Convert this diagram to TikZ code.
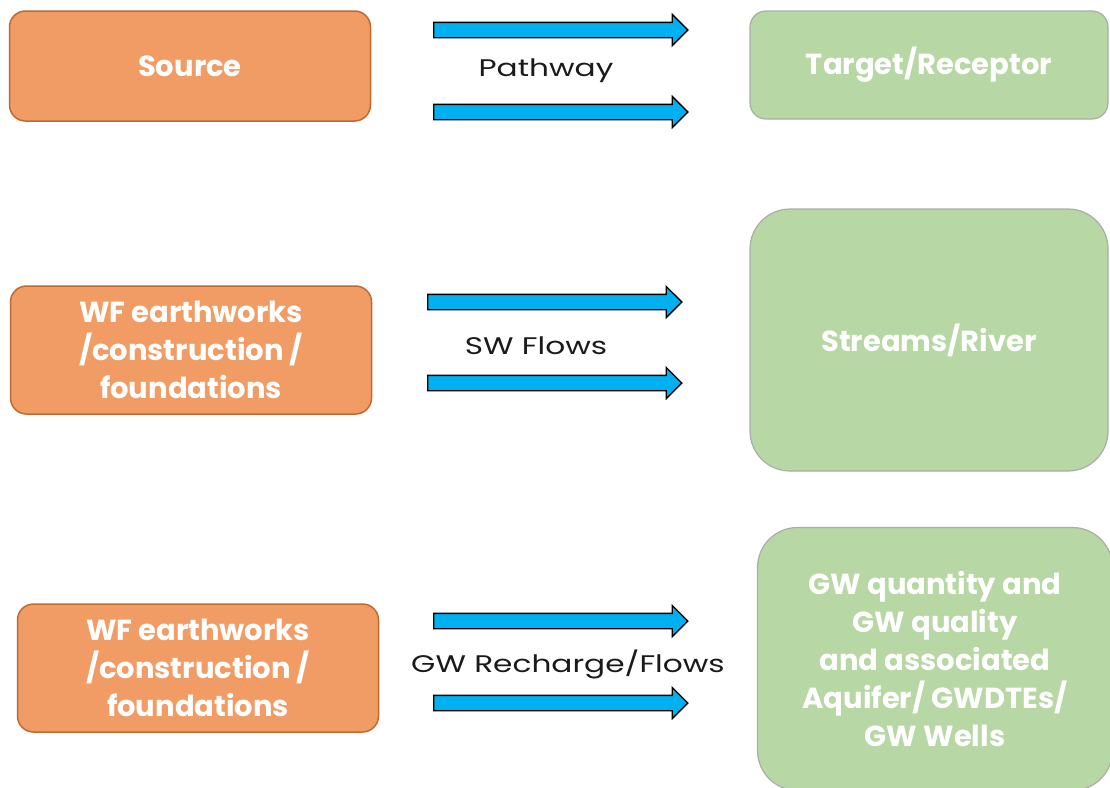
\documentclass[tikz,border=0pt]{standalone}
\usepackage{fontspec}
\setmainfont{Poppins}
\newfontfamily\flowfont{Poppins}[FakeStretch=1.3]
\usetikzlibrary{shapes.arrows,positioning}
\definecolor{srcfill}{HTML}{F19C65}
\definecolor{srcborder}{HTML}{BF6A30}
\definecolor{tgtfill}{HTML}{B7D7A4}
\definecolor{tgtborder}{HTML}{A8AFA4}
\definecolor{flowfill}{HTML}{00B0F0}
\definecolor{labeltext}{HTML}{1A1A1A}
\tikzset{
  base/.style={
    font=\fontsize{29}{38}\selectfont\bfseries,
    text=white,
    align=center,
    inner sep=0pt,
  },
  source/.style={
    base,
    draw=srcborder,
    fill=srcfill,
    rounded corners=16pt,
    line width=1.5pt,
    minimum width=361pt,
    minimum height=128pt,
  },
  target/.style={
    base,
    draw=tgtborder,
    fill=tgtfill,
    rounded corners=#1,
    line width=1.2pt,
  },
  target/.default=16pt,
  flowarrow/.style={
    single arrow,
    draw=black,
    fill=flowfill,
    line width=1.3pt,
    minimum height=254pt,
    minimum width=0pt,
    inner xsep=0pt,
    inner ysep=7pt,
    single arrow head extend=8pt,
    single arrow tip angle=90,
  },
  plabel/.style={
    font=\flowfont\fontsize{24}{28}\selectfont,
    text=labeltext,
  },
}

\begin{document}
\begin{tikzpicture}[x=1pt, y=-1pt]
\useasboundingbox (0,0) rectangle (1110,787);

% === ROW 1: Source -> Pathway -> Target ===

\node[source, minimum height=110pt]
  (src) at (190,66) {Source};

\node[target, minimum width=358pt, minimum height=108pt]
  (tgt) at (929,65) {Target/Receptor};

\node[flowarrow] (path1) at (557,30) {};
\node[flowarrow] (path2) at (557,112) {};
\node[plabel] (pathlbl) at (546,71) {Pathway};

% === ROW 2: Earthworks -> SW flows -> Streams ===

\node[source]
  (works1) at (191,350) {WF earthworks\\/construction /\\foundations};

\node[target=40pt, minimum width=358pt, minimum height=262pt]
  (river) at (929,340) {Streams/River};

\node[flowarrow] (sw1) at (551,302) {};
\node[flowarrow] (sw2) at (551,383) {};
\node[plabel] (swlbl) at (536,346) {SW Flows};

% === ROW 3: Earthworks -> GW recharge -> Aquifer ===

\node[source]
  (works2) at (198,668) {WF earthworks\\/construction /\\foundations};

\node[target=40pt, minimum width=355pt, minimum height=263pt]
  (aquifer) at (935,659) {GW quantity and\\GW quality\\and associated\\Aquifer/ GWDTEs/\\GW Wells};

\node[flowarrow] (gw1) at (557,621) {};
\node[flowarrow] (gw2) at (557,703) {};
\node[plabel] (gwlbl) at (568,664) {GW Recharge/Flows};

\end{tikzpicture}
\end{document}
